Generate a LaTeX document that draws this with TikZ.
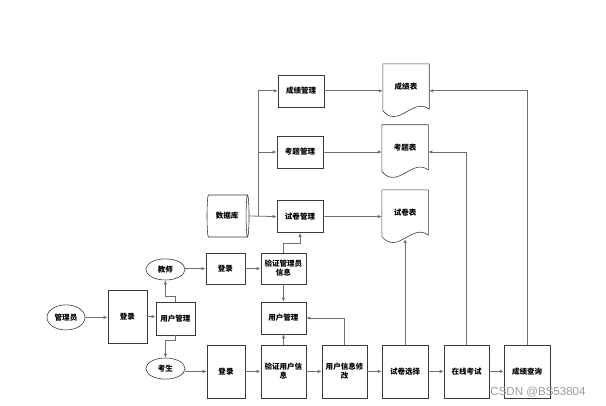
\documentclass[tikz,border=0pt]{standalone}
\usepackage{fontspec}
\usepackage{xcolor}
\usepackage{tikz}
\usetikzlibrary{arrows.meta,shapes.geometric}
\newfontfamily\cjkfont{Noto Sans CJK SC}
\newfontfamily\wmfont{Liberation Sans}
\definecolor{FCBorder}{HTML}{3A3A3A}
\definecolor{FCLine}{HTML}{707070}
\definecolor{FCMark}{HTML}{9A9A9A}

\begin{document}
\begin{tikzpicture}[x=1cm,y=1cm,
  font=\cjkfont\bfseries\fontsize{7.5}{9}\selectfont,
  box/.style={draw=FCBorder,line width=0.6pt,inner sep=1pt,align=center},
  oval/.style={ellipse,draw=FCBorder,line width=0.6pt,inner sep=0pt},
  docbox/.style={inner sep=0pt,minimum width=1.61cm,minimum height=1.575cm},
  docline/.style={draw=FCBorder,line width=0.6pt},
  flow/.style={draw=FCLine,line width=0.8pt,-{Latex[length=4pt,width=3.5pt]}}]
\path[use as bounding box] (0,0) rectangle (21.21,14.21);
% management column
\node[box,minimum width=1.61cm,minimum height=1.12cm] (cjgl) at (10.54,11.03) {成绩管理};
\node[box,minimum width=1.61cm,minimum height=1.12cm] (ktgl) at (10.50,8.89) {考题管理};
\node[box,minimum width=1.61cm,minimum height=1.12cm] (sjgl) at (10.50,6.63) {试卷管理};
% tables
\node[docbox] (cjb) at (14.21,11.18) {成绩表};
\node[docbox] (ktb) at (14.18,9.05) {考题表};
\node[docbox] (sjb) at (14.18,6.77) {试卷表};
\foreach \t in {cjb,ktb,sjb}
  \draw[docline] (\t.south east) -- (\t.north east) -- (\t.north west) -- ([yshift=-0.05cm]\t.south west)
    .. controls +(0.55,-0.65) and +(-0.55,0.45) .. (\t.south east);
\node[cylinder,draw=FCBorder,line width=0.6pt,aspect=0.4,minimum width=1.47cm,minimum height=1.47cm,inner sep=0pt] (sjk) at (7.95,6.65) {数据库};
% login part
\node[oval,minimum width=1.33cm,minimum height=0.88cm] (gly) at (2.31,3.10) {管理员};
\node[box,minimum width=1.37cm,minimum height=1.86cm] (dl1) at (4.46,3.13) {登录};
\node[box,minimum width=1.37cm,minimum height=1.16cm] (yhgl1) at (6.14,3.06) {用户管理};
\node[oval,minimum width=1.37cm,minimum height=0.74cm] (js) at (5.79,4.78) {教师};
\node[oval,minimum width=1.37cm,minimum height=0.74cm] (ks) at (5.79,1.31) {考生};
\node[box,minimum width=1.37cm,minimum height=1.09cm] (dl2) at (7.89,4.81) {登录};
\node[box,minimum width=1.33cm,minimum height=1.86cm] (dl3) at (7.91,1.21) {登录};
\node[box,minimum width=1.58cm,minimum height=1.09cm] (yzgly) at (9.92,4.81) {验证管理员\\信息};
\node[box,minimum width=1.58cm,minimum height=1.12cm] (yhgl2) at (9.92,3.08) {用户管理};
% bottom row
\node[box,minimum width=1.58cm,minimum height=1.86cm] (yzyh) at (9.92,1.21) {验证用户信\\息};
\node[box,minimum width=1.58cm,minimum height=1.86cm] (xgxx) at (12.06,1.21) {用户信息修\\改};
\node[box,minimum width=1.61cm,minimum height=1.86cm] (sjxz) at (14.18,1.21) {试卷选择};
\node[box,minimum width=1.58cm,minimum height=1.86cm] (zxks) at (16.33,1.21) {在线考试};
\node[box,minimum width=1.61cm,minimum height=1.86cm] (cjcx) at (18.45,1.21) {成绩查询};
\coordinate (fork) at (9.03,6.65);

\draw[flow] (sjk.east) -- (sjgl.west);
\draw[flow] (fork) |- (ktgl.west);
\draw[flow] (fork) |- (cjgl.west);
\draw[flow] (cjgl.east) -- (cjgl.east -| cjb.west);
\draw[flow] (ktgl.east) -- (ktgl.east -| ktb.west);
\draw[flow] (sjgl.east) -- (sjgl.east -| sjb.west);
\draw[flow] (gly.east) -- (gly.east -| dl1.west);
\draw[flow] (dl1.east) -- (dl1.east -| yhgl1.west);
\draw[flow] (yhgl1.north) -- ++(0,0.17) -| (js.south);
\draw[flow] (yhgl1.south) -- ++(0,-0.17) -| (ks.north);
\draw[flow] (js.east |- dl2.west) -- (dl2.west);
\draw[flow] (ks.east |- dl3.west) -- (dl3.west);
\draw[flow] (dl2.east) -- (yzgly.west);
\draw[flow] (dl3.east) -- (yzyh.west);
\draw[flow] (yzgly.south) -- (yhgl2.north);
\draw[flow] (yzyh.north) -- (yhgl2.south);
\draw[flow] (yzgly.north) -- ++(0,0.32) -| (sjgl.south);
\draw[flow] (xgxx.north) |- (yhgl2.east);
\draw[flow] (yzyh.east) -- (xgxx.west);
\draw[flow] (xgxx.east) -- (sjxz.west);
\draw[flow] (sjxz.east) -- (zxks.west);
\draw[flow] (zxks.east) -- (cjcx.west);
\draw[flow] (sjxz.north) -- ([yshift=-0.13cm]sjb.south);
\draw[flow] (zxks.north) |- (ktgl.east -| ktb.east);
\draw[flow] (cjcx.north) |- (cjgl.east -| cjb.east);
\node[text=FCMark,font=\wmfont\fontsize{11.5}{13}\selectfont] (mark) at (18.83,0.49) {CSDN @BS53804};
\end{tikzpicture}
\end{document}
